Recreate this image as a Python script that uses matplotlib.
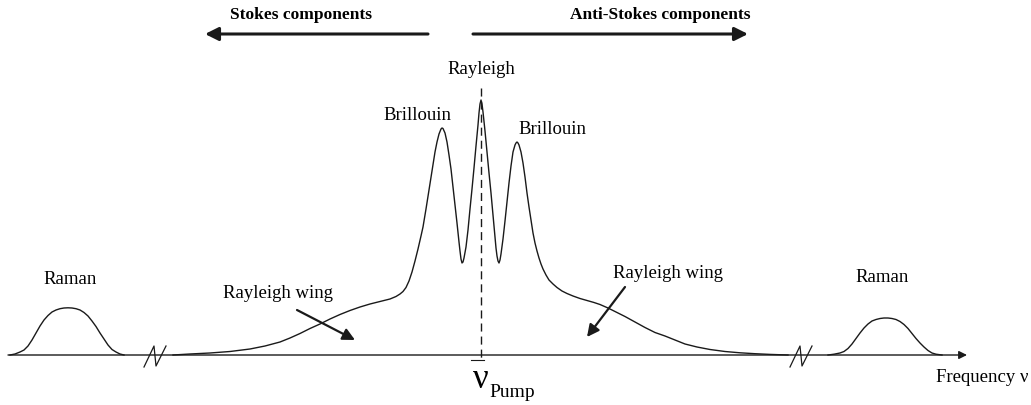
import matplotlib
matplotlib.use('Agg')
import matplotlib.pyplot as plt

plt.rcParams['font.family'] = ['Liberation Serif', 'DejaVu Serif']

# Spectrum (x in px across the figure, intensity in px above the axis)
raman_l_x = [10, 15, 20, 24, 28, 32, 36, 40, 44, 48, 52, 56, 60, 64, 68,
             72, 76, 80, 84, 88, 92, 96, 100, 104, 108, 112, 116, 120, 124]
raman_l_y = [0, 1, 3, 5, 9, 15, 22, 29, 35, 39.5, 43, 45, 46.3, 47, 47.2,
             47, 46.3, 45, 42.5, 39, 34, 28.5, 22, 16, 10, 5.5, 3, 1, 0]

center_x = [173, 190, 210, 230, 250, 265, 280, 290, 300, 310,
            320, 330, 340, 350, 360, 370, 380, 390, 396, 400,
            403, 406, 409, 412, 415, 418, 421, 423, 426, 429,
            432, 435, 437, 439, 441, 442, 443, 445, 447, 449,
            451, 453, 455, 457, 459, 460, 461, 462, 463, 464,
            466, 468, 470, 472, 474, 476, 478, 479, 480, 481,
            482, 483, 485, 487, 489, 491, 493, 495, 496, 497,
            498, 499, 500, 501, 503, 505, 507, 509, 511, 513,
            515, 516, 517, 518, 519, 521, 523, 525, 527, 529,
            531, 533, 535, 537, 539, 541, 543, 546, 549, 553,
            557, 562, 567, 573, 580, 587, 594, 600, 608, 616,
            625, 635, 645, 655, 665, 675, 685, 697, 710, 725,
            740, 755, 770, 788]
center_y = [0, 1, 2, 3.5, 6, 9, 13, 17, 21.5, 26.5,
            31, 36, 40.5, 44.5, 48, 51, 53.5, 56, 58.5, 61,
            63.5, 67.5, 74, 83, 94, 106, 119, 128, 146, 165,
            184, 203, 213, 221, 226, 227, 226.5, 222, 213, 200,
            186, 168, 150, 132, 113, 104, 96, 92, 93, 97,
            108, 125, 146, 166, 187, 209, 230, 242, 251, 255,
            251, 243, 224, 203, 182, 162, 140, 118, 107, 99,
            94, 92, 95, 101, 116, 134, 153, 172, 189, 203,
            210, 212, 213, 212, 210, 203, 192, 178, 162, 148,
            135, 122, 112, 104, 97, 91, 86, 80, 75, 71,
            67.5, 64, 61.5, 59, 56.5, 54.5, 52.5, 50.5, 47, 43,
            38.5, 33, 27.5, 22.5, 19, 15, 11, 8, 5.5, 3.5,
            2.2, 1.3, 0.6, 0]

raman_r_x = [828, 834, 840, 844, 848, 852, 856, 860, 864, 868, 872, 876, 880, 884,
             888, 892, 896, 900, 904, 908, 912, 916, 920, 924, 928, 932, 936, 942]
raman_r_y = [0, 0.8, 2, 3.5, 6.5, 11, 16.5, 22, 27, 31, 34, 35.5, 36.5, 37,
             37, 36.5, 35.5, 33.5, 30.5, 26.5, 21.5, 16.5, 12, 8, 4.5, 2, 0.8, 0]

pump_x = 481
break_x = [144, 790]

fig = plt.figure(figsize=(10.31, 4.05), dpi=100)
ax = fig.add_axes([0, 0, 1, 1])
ax.set_xlim(0, 1031)
ax.set_ylim(-50, 355)
ax.axis('off')

line_c = '#1a1a1a'

# frequency axis with arrow
ax.annotate('', xy=(967, 0), xytext=(8, 0),
            arrowprops=dict(arrowstyle='-|>', lw=1.0, color=line_c, mutation_scale=12,
                            shrinkA=0, shrinkB=0))

for xs, ys in [(raman_l_x, raman_l_y), (center_x, center_y), (raman_r_x, raman_r_y)]:
    ax.plot(xs, ys, color=line_c, lw=1.0, solid_joinstyle='round')

# axis breaks
for bx in break_x:
    ax.plot([bx, bx + 10, bx + 12, bx + 22], [-12, 9, -11, 9], color=line_c, lw=0.9)

# pump line
ax.plot([pump_x, pump_x], [267, -5], color=line_c, lw=1.0, dashes=(5.8, 3.6))
ax.plot([pump_x - 10, pump_x + 3], [-5, -5], color=line_c, lw=0.8)

# top direction arrows
ax.annotate('', xy=(205, 321), xytext=(428, 321),
            arrowprops=dict(arrowstyle='-|>', lw=2.2, color=line_c, mutation_scale=20,
                            shrinkA=0, shrinkB=0))
ax.annotate('', xy=(748, 321), xytext=(473, 321),
            arrowprops=dict(arrowstyle='-|>', lw=2.2, color=line_c, mutation_scale=20,
                            shrinkA=0, shrinkB=0))
ax.text(301, 340, 'Stokes components', ha='center', va='center', fontsize=12.5, fontweight='bold')
ax.text(660, 340, 'Anti-Stokes components', ha='center', va='center', fontsize=12.5, fontweight='bold')

fs = 13.5
ax.text(481, 285, 'Rayleigh', ha='center', va='center', fontsize=fs)
ax.text(417, 240, 'Brillouin', ha='center', va='center', fontsize=fs)
ax.text(552, 225, 'Brillouin', ha='center', va='center', fontsize=fs)
ax.text(70, 75, 'Raman', ha='center', va='center', fontsize=fs)
ax.text(882, 77, 'Raman', ha='center', va='center', fontsize=fs)
ax.text(278, 62, 'Rayleigh wing', ha='center', va='center', fontsize=fs)
ax.text(668, 82, 'Rayleigh wing', ha='center', va='center', fontsize=fs)

ax.annotate('', xy=(355, 15), xytext=(297, 45),
            arrowprops=dict(arrowstyle='-|>', lw=1.6, color=line_c, mutation_scale=18,
                            shrinkA=0, shrinkB=0))
ax.annotate('', xy=(587, 18), xytext=(625, 68),
            arrowprops=dict(arrowstyle='-|>', lw=1.6, color=line_c, mutation_scale=18,
                            shrinkA=0, shrinkB=0))

ax.text(473, -33, 'ν', ha='left', va='baseline', fontsize=25)
ax.text(489, -42, 'Pump', ha='left', va='baseline', fontsize=14)
ax.text(1028, -22, 'Frequency ν', ha='right', va='center', fontsize=fs)

plt.savefig('out.png', dpi=100)
